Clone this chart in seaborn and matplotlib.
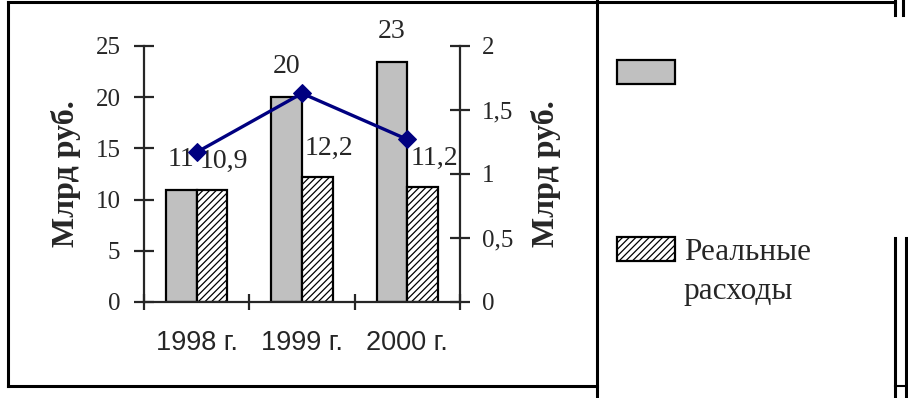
import numpy as np
import pandas as pd
import matplotlib
matplotlib.use("Agg")
import matplotlib.pyplot as plt
import seaborn as sns
from matplotlib.patches import Patch
from matplotlib.lines import Line2D
from matplotlib.ticker import FuncFormatter

# ---- data ----
years = ["1998 г.", "1999 г.", "2000 г."]
nominal = [10.9, 20.0, 23.4]          # grey bars (left axis)
real = [10.9, 12.2, 11.2]             # hatched bars (left axis)
line_vals = [1.17, 1.63, 1.27]        # blue line (right axis)
left_ticks = [0, 5, 10, 15, 20, 25]
right_ticks = [0, 0.5, 1, 1.5, 2]
axis_label = "Млрд руб."
legend_labels = ["", "Реальные", "расходы"]

W, H = 908, 398
sns.set_style("ticks")
plt.rcParams["font.family"] = ["Liberation Serif", "DejaVu Serif"]
plt.rcParams["hatch.linewidth"] = 0.9

fig = plt.figure(figsize=(W / 100, H / 100), dpi=100)
fig.patch.set_facecolor("white")

def fx(x):
    return x / W

def fy(y):
    return 1 - y / H

ax = fig.add_axes([fx(144), fy(302), fx(460) - fx(144), fy(46) - fy(302)])
ax.set_facecolor("none")

df = pd.DataFrame({
    "year": years * 2,
    "kind": ["nom"] * 3 + ["real"] * 3,
    "value": nominal + real,
})
sns.barplot(data=df, x="year", y="value", hue="kind",
            palette=["#C0C0C0", "#FFFFFF"], saturation=1,
            width=0.58, gap=0, edgecolor="black", linewidth=1.6,
            legend=False, ax=ax)
for bar in ax.containers[1]:
    bar.set_hatch("/////")

# data labels
lab_size = 20
for bar, v in zip(ax.containers[0], nominal):
    ax.annotate(f"{v:.0f}", (bar.get_x() + bar.get_width() / 2, bar.get_height()),
                xytext=(0, 31), textcoords="offset pixels",
                ha="center", va="center", fontsize=lab_size)
for bar, v in zip(ax.containers[1], real):
    ax.annotate(f"{v:.1f}".replace(".", ","),
                (bar.get_x() + bar.get_width() / 2, bar.get_height()),
                xytext=(12, 29), textcoords="offset pixels",
                ha="center", va="center", fontsize=lab_size)

ax.set_xlim(-0.5, 2.5)
ax.set_ylim(0, 25)
ax.set_yticks(left_ticks)
ax.set_xticks([-0.5, 0.5, 1.5, 2.5])
ax.set_xticklabels([])
ax.set_xticks([0, 1, 2], minor=True)
ax.set_xticklabels(years, minor=True)
ax.set_xlabel("")
ax.set_ylabel(axis_label, fontsize=23, fontweight="bold")
ax.yaxis.set_label_coords((66 - 144) / 316, 0.5)
ax.yaxis.label.set_va("center")

for s in ["top", "right"]:
    ax.spines[s].set_visible(False)
for s in ["left", "bottom"]:
    ax.spines[s].set_linewidth(1.6)
ax.tick_params(axis="y", direction="inout", length=14, width=1.6, pad=10,
               labelsize=18)
ax.tick_params(axis="x", which="major", direction="inout", length=12, width=1.6)
ax.tick_params(axis="x", which="minor", length=0, pad=20, labelsize=19.5,
               labelfontfamily="Liberation Sans")

# right axis with line
ax2 = ax.twinx()
sns.lineplot(x=[0, 1, 2], y=line_vals, ax=ax2, color="#000080", marker="D",
             markersize=9, markeredgecolor="#000080", linewidth=2.4)
ax2.set_ylim(0, 2)
ax2.set_yticks(right_ticks)
ax2.yaxis.set_major_formatter(FuncFormatter(lambda v, p: f"{v:g}".replace(".", ",")))
for s in ["top", "left", "bottom"]:
    ax2.spines[s].set_visible(False)
ax2.spines["right"].set_linewidth(1.6)
ax2.tick_params(axis="y", direction="inout", length=14, width=1.6, pad=9,
                labelsize=18)
ax2.set_ylabel(axis_label, fontsize=23, fontweight="bold", rotation=90)
ax2.yaxis.set_label_coords((546 - 144) / 316, 0.5)
ax2.yaxis.label.set_va("center")
ax2.set_xlim(-0.5, 2.5)

# legend
leg_fs = 22.5
h1 = Patch(facecolor="#C0C0C0", edgecolor="black", linewidth=1.6)
h2 = Patch(facecolor="white", edgecolor="black", linewidth=1.6, hatch="/////")
leg1 = fig.legend([h1], [legend_labels[0]], loc="center left",
                  bbox_to_anchor=(fx(617), fy(75)), frameon=False,
                  borderpad=0, borderaxespad=0, handlelength=1.85,
                  handleheight=0.78, fontsize=leg_fs, handletextpad=0.3)
leg2 = fig.legend([h2], [legend_labels[1]], loc="center left",
                  bbox_to_anchor=(fx(617), fy(252)), frameon=False,
                  borderpad=0, borderaxespad=0, handlelength=1.85,
                  handleheight=0.78, fontsize=leg_fs, handletextpad=0.3)
fig.text(fx(683), fy(299), legend_labels[2], ha="left", va="baseline",
         fontsize=leg_fs)

# frame lines
def fline(x0, y0, x1, y1, lw=2.2):
    fig.add_artist(Line2D([fx(x0), fx(x1)], [fy(y0), fy(y1)], color="black",
                          linewidth=lw, transform=fig.transFigure,
                          solid_capstyle="projecting"))

fline(8, 2, 895, 2)
fline(8, 2, 8, 386)
fline(8, 386, 597, 386)
fline(597, 0, 597, 398)
fline(895, 238, 895, 398)
fline(906, 238, 906, 398)
fline(895, 386, 906, 386, lw=1.5)
fline(895, 0, 895, 15)
fline(903, 0, 903, 15)

fig.savefig("out.png", dpi=100, facecolor="white")
